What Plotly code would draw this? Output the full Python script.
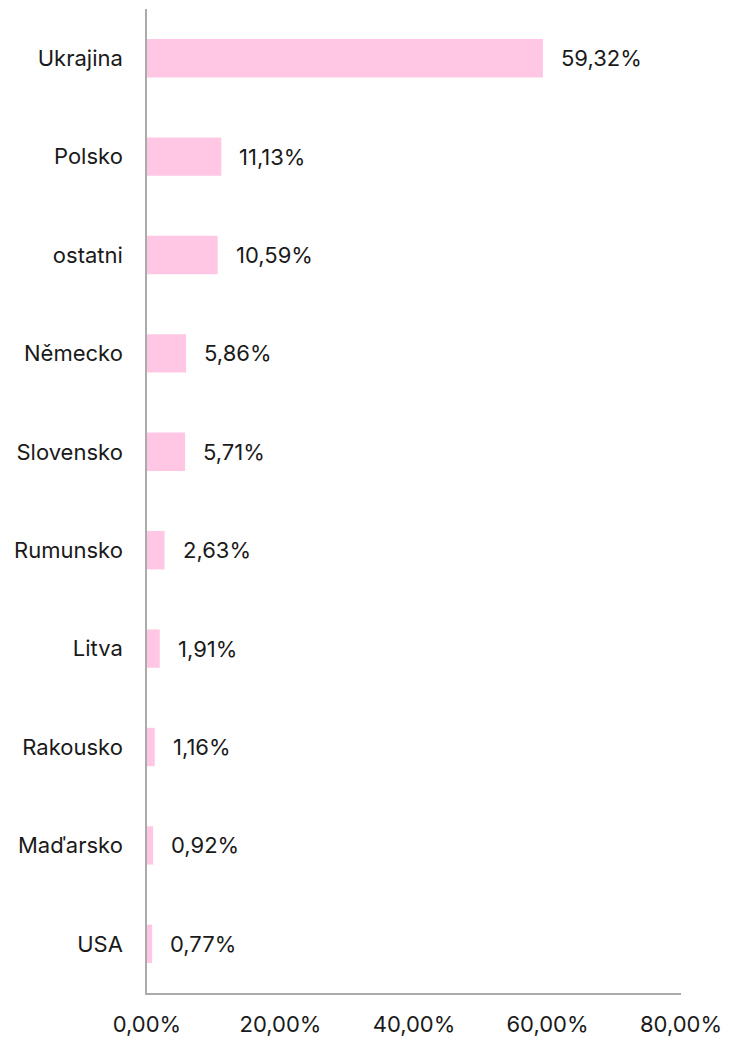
import plotly.graph_objects as go

categories = ["Ukrajina", "Polsko", "ostatni", "Německo", "Slovensko",
              "Rumunsko", "Litva", "Rakousko", "Maďarsko", "USA"]
values = [59.32, 11.13, 10.59, 5.86, 5.71, 2.63, 1.91, 1.16, 0.92, 0.77]
labels = ["59,32%", "11,13%", "10,59%", "5,86%", "5,71%",
          "2,63%", "1,91%", "1,16%", "0,92%", "0,77%"]
tick_vals = [0, 20, 40, 60, 80]
tick_text = ["0,00%", "20,00%", "40,00%", "60,00%", "80,00%"]

FONT = "Inter, Roboto, sans-serif"
FS = 22

fig = go.Figure()
fig.add_trace(go.Bar(
    x=values, y=categories, orientation="h",
    marker=dict(color="#FFC7E3", line=dict(width=0)),
    width=0.39, hoverinfo="skip",
))

for c, v, t in zip(categories, values, labels):
    fig.add_annotation(x=v, y=c, text=t, showarrow=False,
                       xanchor="left", yanchor="middle", xshift=16,
                       font=dict(family=FONT, size=FS, color="#1a1a1a"))

fig.update_layout(
    width=721, height=1031,
    margin=dict(l=139, r=48, t=1, b=46, autoexpand=False),
    paper_bgcolor="white", plot_bgcolor="white",
    showlegend=False,
    font=dict(family=FONT, size=FS, color="#1a1a1a"),
    xaxis=dict(range=[0, 80], tickvals=tick_vals, ticktext=tick_text,
               showgrid=False, zeroline=False, showline=True,
               linecolor="#ABABAB", linewidth=1.5, ticks="",
               ticklabelstandoff=11, automargin=False, fixedrange=True),
    yaxis=dict(categoryorder="array", categoryarray=categories,
               autorange="reversed", showgrid=False, zeroline=False,
               showline=True, linecolor="#ABABAB", linewidth=1.5,
               ticks="", ticklabelstandoff=18, automargin=False,
               fixedrange=True),
)

fig.write_html("out.html")
